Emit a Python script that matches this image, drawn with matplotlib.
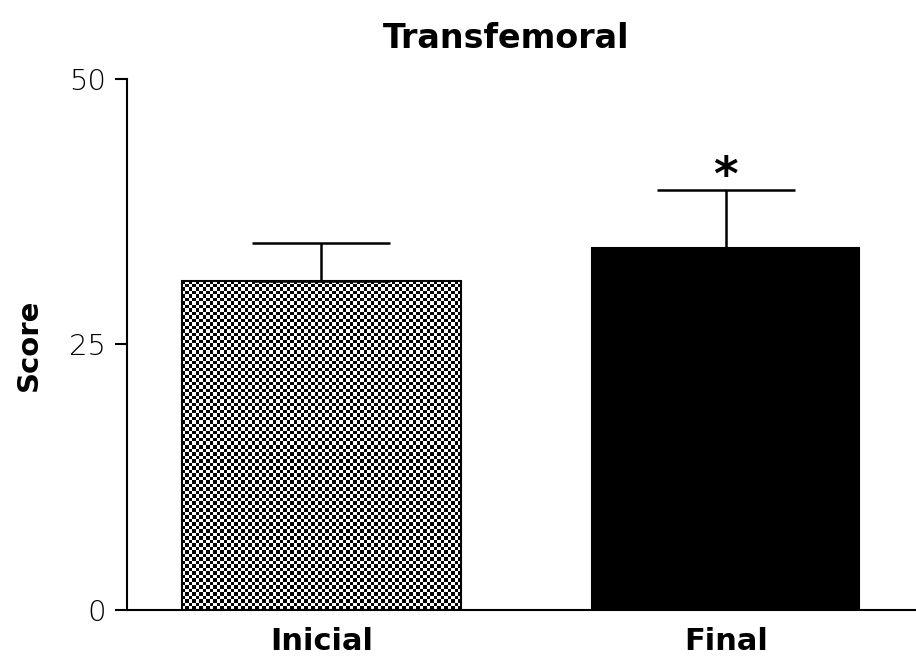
import matplotlib
matplotlib.use("Agg")
import matplotlib.pyplot as plt
import numpy as np

groups = ["Inicial", "Final"]
means = [31.0, 34.1]
sems = [3.6, 5.4]
yticks = [0, 25, 50]

fig = plt.figure(figsize=(9.16, 6.58), dpi=100)
ax = fig.add_axes([0.1387, 0.073, 0.8613, 0.807])

pos = np.arange(len(groups))
widths = [0.69, 0.66]
bars = ax.bar(pos, means, width=widths, color=["none", "black"], edgecolor="black", linewidth=1.5, zorder=2)

# checkerboard fill for the first bar, clipped to the bar outline
b = bars[0]
nx, ny = 80, 94
checker = (np.add.outer(np.arange(ny), np.arange(nx)) % 2).astype(float)
img = ax.imshow(checker, cmap="gray", interpolation="nearest", aspect="auto",
                extent=(b.get_x(), b.get_x() + b.get_width(), 0, b.get_height()), zorder=1)
img.set_clip_path(b)

ax.errorbar(pos, means, yerr=[[0, 0], sems], fmt="none", ecolor="black",
            elinewidth=1.8, capsize=50, capthick=1.8, zorder=3)

ax.text(pos[1], means[1] + sems[1] + 1.2, "*", ha="center", va="center",
        fontsize=34, fontweight="bold")

ax.set_xlim(-0.48, 1.47)
ax.set_ylim(0, 50)
ax.set_yticks(yticks)
ax.set_yticklabels([str(t) for t in yticks], fontsize=21, fontweight="light")
ax.set_xticks(pos)
ax.set_xticklabels(groups, fontsize=22, fontweight="bold")
ax.tick_params(axis="x", length=0, pad=12)
ax.tick_params(axis="y", length=9, width=1.5, pad=6)
ax.set_ylabel("Score", fontsize=21, fontweight="bold", va="center")
ax.yaxis.set_label_coords(-0.125, 0.5)
ax.set_title("Transfemoral", fontsize=24, fontweight="bold", pad=22, x=0.48)

for side in ["top", "right"]:
    ax.spines[side].set_visible(False)
for side in ["left", "bottom"]:
    ax.spines[side].set_linewidth(1.5)

fig.savefig("out.png", dpi=100)
